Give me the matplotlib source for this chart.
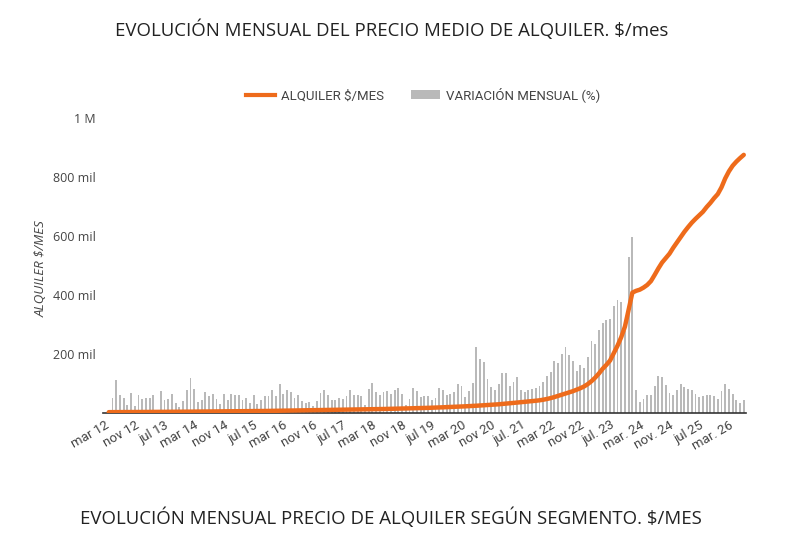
import matplotlib
matplotlib.use("Agg")
import matplotlib.pyplot as plt
from matplotlib.ticker import FuncFormatter, FixedLocator
from matplotlib.patches import Patch
from matplotlib.lines import Line2D

# ---------------- data ----------------
tick_labels = ["mar 12", "nov 12", "jul 13", "mar 14", "nov 14", "jul 15", "mar 16",
               "nov 16", "jul 17", "mar 18", "nov 18", "jul 19", "mar 20", "nov 20",
               "jul. 21", "mar 22", "nov 22", "jul. 23", "mar. 24", "nov. 24",
               "jul 25", "mar. 26"]
tick_months = [0, 8, 16, 24, 32, 40, 48, 56, 64, 72, 80, 88, 96, 104, 112, 120,
               128, 136, 144, 152, 160, 168]

# month index (0 = mar 12) of each observation
months = list(range(1, 173))

# monthly variation (%)
variacion = [
    0.4, 2.0, 4.5, 2.4, 2.0, 1.1, 2.7, 0.9, 2.4, 1.9, 2.0, 2.0, 2.4, 0.4, 3.0, 1.8,
    1.9, 2.6, 1.4, 0.8, 1.6, 3.1, 4.7, 3.3, 1.5, 1.8, 2.8, 2.3, 2.6, 1.9, 1.2, 2.6,
    1.8, 2.6, 2.4,
    2.4, 1.8, 2.0, 1.4, 2.4, 1.2, 1.8, 2.3, 2.3, 3.1, 2.3, 3.9, 2.6, 3.1, 2.8, 2.0,
    2.4, 1.6, 1.4, 1.5, 0.9, 1.6, 2.7, 3.1, 2.4, 1.8, 1.8, 2.0, 1.9, 2.3, 3.1, 2.4,
    2.4, 2.3, 1.1,
    3.3, 4.1, 2.8, 2.4, 2.8, 3.0, 2.6, 3.1, 3.4, 2.6, 1.1, 1.9, 3.4, 3.0, 2.2, 2.3,
    2.3, 1.8, 2.0, 3.4, 3.1, 2.4, 2.6, 2.8, 3.9, 3.7, 2.2, 3.0, 4.1, 8.9, 7.3, 6.9,
    4.6, 3.5, 3.1,
    3.9, 5.4, 5.4, 3.7, 4.2, 4.9, 3.1, 2.8, 3.1, 3.3, 3.4, 3.7, 4.2, 5.0, 5.6, 7.1,
    6.8, 8.0, 8.9, 7.9, 7.1, 5.7, 6.5, 6.1, 7.6, 9.8, 9.4, 11.3, 12.2, 12.6, 12.7,
    14.5, 15.3, 15.1, 11.1, 21.2, 23.9, 3.1, 1.5, 1.9, 2.4, 2.4, 3.7, 5.0, 4.9, 3.8,
    2.7, 2.4, 3.1, 3.9, 3.5, 3.3, 3.1, 2.6, 2.2, 2.3, 2.4, 2.4, 2.3, 1.9, 3.0, 3.9,
    3.3, 2.6, 1.8, 1.4, 1.8,
]

# average rent ($/month), thousands
alquiler_k = [
    2.8, 2.9, 2.95, 3.0, 3.05, 3.1, 3.2, 3.3, 3.35, 3.4, 3.5, 3.55,
    3.6, 3.7, 3.8, 3.85, 3.9, 4.0, 4.1, 4.2, 4.3, 4.4, 4.5, 4.7,
    4.8, 4.9, 5.0, 5.1, 5.2, 5.3, 5.4, 5.5, 5.6, 5.7, 5.8, 5.9,
    6.0, 6.1, 6.3, 6.4, 6.5, 6.7, 6.8, 7.0, 7.2, 7.4, 7.6, 7.8,
    8.0, 8.2, 8.4, 8.6, 8.8, 9.0, 9.2, 9.3, 9.5, 9.6, 9.8, 10.0,
    10.2, 10.4, 10.6, 10.8, 11.0, 11.2, 11.4, 11.6, 11.8, 12.0, 12.3, 12.6,
    12.9, 13.2, 13.5, 13.8, 14.1, 14.4, 14.7, 15.0, 15.3, 15.6, 15.9, 16.2,
    16.6, 17.0, 17.4, 17.8, 18.3, 18.8, 19.3, 19.8, 20.3, 20.8, 21.4, 22.0,
    22.6, 23.2, 23.8, 24.6, 25.4, 26.2, 27.0, 27.8, 28.6, 29.5, 30.6, 31.8,
    33.0, 34.2, 35.4, 36.6, 37.8, 39.0, 40.2, 41.5, 43.0, 45.0, 47.5, 50.5,
    54, 58, 62, 66, 70, 74, 79, 84, 90,
    98, 108, 120, 134, 150, 163, 178, 203, 228, 257, 293, 350, 408, 414, 418,
    425, 434, 447, 468, 490, 510, 525, 540, 560, 578, 596, 614, 630, 645, 658,
    670, 682, 698, 712, 728, 742, 765, 795, 819, 838, 852, 864, 875,
]
alquiler = [v * 1000 for v in alquiler_k]

y_ticks = [0, 200000, 400000, 600000, 800000, 1000000]

# ---------------- style ----------------
ORANGE = "#ee6b1b"
GRAY = "#b9b9b9"
TEXT = "#444444"

fig = plt.figure(figsize=(8.0, 5.36), dpi=100)
ax = fig.add_axes([0.129, 0.2295, 0.8035, 0.5504])
ax2 = ax.twinx()

ax2.bar(months, variacion, width=0.5, color=GRAY, zorder=1)
ax2.set_ylim(0, 40)
ax2.axis("off")

ax.plot(months, alquiler, color=ORANGE, lw=3.2, solid_capstyle="round", zorder=3)
ax.set_zorder(ax2.get_zorder() + 1)
ax.patch.set_visible(False)

ax.set_xlim(-0.5, 172.6)
ax.set_ylim(0, 1000000)
ax.yaxis.set_major_locator(FixedLocator(y_ticks))


def fmt(v, pos):
    if v == 0:
        return ""
    if v >= 1000000:
        return "1 M"
    return f"{int(v/1000)} mil"


ax.yaxis.set_major_formatter(FuncFormatter(fmt))
ax.set_xticks(tick_months)
ax.set_xticklabels(tick_labels, rotation=30, ha="right", rotation_mode="anchor",
                   fontsize=9.5, color=TEXT, fontfamily="Roboto")
for lab in ax.get_yticklabels():
    lab.set_fontfamily("Open Sans")
ax.tick_params(axis="y", length=0, pad=5.5, labelsize=9, labelcolor=TEXT)
ax.tick_params(axis="x", length=0, pad=4)
for s in ["top", "right", "left"]:
    ax.spines[s].set_visible(False)
ax.spines["bottom"].set_color("#333333")
ax.spines["bottom"].set_linewidth(1.2)

ax.set_ylabel("ALQUILER $/MES", fontsize=9.5, fontstyle="italic", color=TEXT,
              fontfamily="Open Sans")
ax.yaxis.set_label_coords(-0.086, 0.49)

handles = [Line2D([0], [0], color=ORANGE, lw=3.0),
           Patch(facecolor=GRAY, edgecolor="none")]
fig.legend(handles, ["ALQUILER $/MES", "VARIACIÓN MENSUAL (%)"],
           loc="center", bbox_to_anchor=(0.529, 0.823), ncol=2, frameon=False,
           prop={"family": "Roboto", "size": 9.5}, labelcolor=TEXT,
           handlelength=2.2, columnspacing=2.0, handletextpad=0.5)

fig.text(0.49, 0.944, "EVOLUCIÓN MENSUAL DEL PRECIO MEDIO DE ALQUILER. $/mes",
         ha="center", va="center", fontsize=13.4, color="#222222",
         fontfamily="Open Sans")
fig.text(0.489, 0.034, "EVOLUCIÓN MENSUAL PRECIO DE ALQUILER SEGÚN SEGMENTO. $/MES",
         ha="center", va="center", fontsize=13.4, color="#222222",
         fontfamily="Open Sans")

fig.savefig("out.png", dpi=100, facecolor="white")
